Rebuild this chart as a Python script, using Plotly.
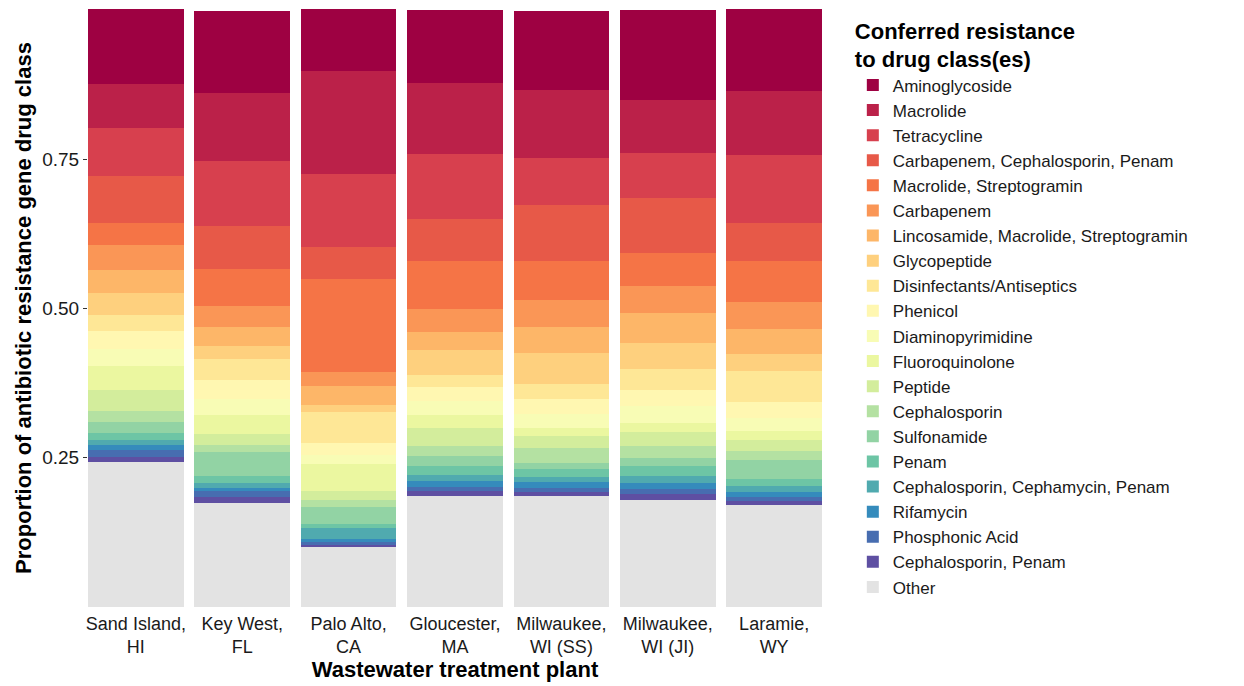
import plotly.graph_objects as go

# ---------------- data ----------------
plants = ["Sand Island,<br>HI", "Key West,<br>FL", "Palo Alto,<br>CA", "Gloucester,<br>MA",
          "Milwaukee,<br>WI (SS)", "Milwaukee,<br>WI (JI)", "Laramie,<br>WY"]

other            = [0.243, 0.175, 0.101, 0.186, 0.186, 0.180, 0.171]
ceph_penam       = [0.008, 0.010, 0.003, 0.008, 0.007, 0.010, 0.007]
phosphonic_acid  = [0.012, 0.010, 0.005, 0.007, 0.007, 0.007, 0.007]
rifamycin        = [0.008, 0.005, 0.005, 0.010, 0.010, 0.010, 0.007]
ceph_cephamycin_penam = [0.008, 0.008, 0.018, 0.010, 0.007, 0.013, 0.010]
penam            = [0.013, 0.012, 0.007, 0.015, 0.015, 0.017, 0.013]
sulfonamide      = [0.018, 0.040, 0.028, 0.017, 0.010, 0.012, 0.032]
cephalosporin    = [0.018, 0.012, 0.013, 0.017, 0.025, 0.020, 0.015]
peptide          = [0.035, 0.018, 0.015, 0.030, 0.020, 0.025, 0.018]
fluoroquinolone  = [0.041, 0.032, 0.044, 0.022, 0.013, 0.015, 0.015]
diaminopyrimidine = [0.028, 0.026, 0.015, 0.023, 0.023, 0.027, 0.021]
phenicol         = [0.031, 0.032, 0.020, 0.023, 0.025, 0.028, 0.028]
disinfectants    = [0.027, 0.035, 0.052, 0.020, 0.025, 0.034, 0.052]
glycopeptide     = [0.036, 0.023, 0.013, 0.042, 0.052, 0.045, 0.028]
lincosamide_mac_strep = [0.038, 0.032, 0.032, 0.030, 0.045, 0.050, 0.042]
carbapenem       = [0.042, 0.034, 0.022, 0.040, 0.045, 0.045, 0.045]
macrolide_strep  = [0.037, 0.062, 0.157, 0.080, 0.065, 0.055, 0.069]
carb_ceph_penam  = [0.080, 0.073, 0.054, 0.070, 0.094, 0.092, 0.064]
tetracycline     = [0.079, 0.109, 0.121, 0.109, 0.079, 0.075, 0.114]
macrolide        = [0.074, 0.114, 0.173, 0.119, 0.114, 0.090, 0.107]
aminoglycoside   = [0.126, 0.137, 0.104, 0.122, 0.131, 0.151, 0.137]

# legend order (top to bottom)
classes = [
    ("Aminoglycoside", aminoglycoside),
    ("Macrolide", macrolide),
    ("Tetracycline", tetracycline),
    ("Carbapenem, Cephalosporin, Penam", carb_ceph_penam),
    ("Macrolide, Streptogramin", macrolide_strep),
    ("Carbapenem", carbapenem),
    ("Lincosamide, Macrolide, Streptogramin", lincosamide_mac_strep),
    ("Glycopeptide", glycopeptide),
    ("Disinfectants/Antiseptics", disinfectants),
    ("Phenicol", phenicol),
    ("Diaminopyrimidine", diaminopyrimidine),
    ("Fluoroquinolone", fluoroquinolone),
    ("Peptide", peptide),
    ("Cephalosporin", cephalosporin),
    ("Sulfonamide", sulfonamide),
    ("Penam", penam),
    ("Cephalosporin, Cephamycin, Penam", ceph_cephamycin_penam),
    ("Rifamycin", rifamycin),
    ("Phosphonic Acid", phosphonic_acid),
    ("Cephalosporin, Penam", ceph_penam),
]

y_ticks = [0.25, 0.50, 0.75]
y_ticklabels = ["0.25", "0.50", "0.75"]

# ---------------- colours (Spectral ramp, 20 steps) ----------------
spectral = ["#9E0142", "#D53E4F", "#F46D43", "#FDAE61", "#FEE08B", "#FFFFBF",
            "#E6F598", "#ABDDA4", "#66C2A5", "#3288BD", "#5E4FA2"]


def ramp(cols, n):
    rgb = [tuple(int(c[i:i + 2], 16) for i in (1, 3, 5)) for c in cols]
    out = []
    for k in range(n):
        t = k / (n - 1) * (len(rgb) - 1)
        i = min(int(t), len(rgb) - 2)
        f = t - i
        c = [round(rgb[i][j] + (rgb[i + 1][j] - rgb[i][j]) * f) for j in range(3)]
        out.append("#%02X%02X%02X" % tuple(c))
    return out


palette = ramp(spectral, len(classes))

FONT = "Liberation Sans, Arial, Helvetica, sans-serif"

fig = go.Figure()
# bottom of stack first: Other, then the classes from the bottom up
fig.add_trace(go.Bar(x=list(range(len(plants))), y=other, name="Other",
                     marker=dict(color="#E3E3E3", line=dict(width=0)), width=0.9))
for (name, vals), col in reversed(list(zip(classes, palette))):
    fig.add_trace(go.Bar(x=list(range(len(plants))), y=vals, name=name,
                         marker=dict(color=col, line=dict(width=0)), width=0.9))

fig.update_layout(
    barmode="stack",
    width=1244, height=686,
    margin=dict(l=88, r=422, t=9, b=79),
    plot_bgcolor="white", paper_bgcolor="white",
    font=dict(family=FONT, color="#1a1a1a"),
    legend=dict(
        traceorder="reversed",
        x=1.042, xanchor="left", y=0.998, yanchor="top",
        font=dict(size=17, family=FONT, color="#1a1a1a"),
        title=dict(text="<b>Conferred resistance<br>to drug class(es)</b>",
                   font=dict(size=22, family=FONT, color="#000000")),
        bgcolor="rgba(0,0,0,0)",
    ),
    xaxis=dict(
        tickmode="array", tickvals=list(range(len(plants))), ticktext=plants,
        range=[-0.45, len(plants) - 0.55],
        showgrid=False, zeroline=False, showline=False,
        ticks="", automargin=False, ticklabelstandoff=4,
        tickfont=dict(size=18, family=FONT, color="#1a1a1a"),
        title=dict(text="<b>Wastewater treatment plant</b>",
                   font=dict(size=22, family=FONT, color="#000000"), standoff=2),
    ),
    yaxis=dict(
        range=[0, 1.002], automargin=False,
        tickmode="array", tickvals=y_ticks, ticktext=y_ticklabels,
        showgrid=False, zeroline=False, showline=False,
        ticks="outside", ticklen=4, tickcolor="#333333",
        tickfont=dict(size=19, family=FONT, color="#1a1a1a"),
        title=dict(text="<b>Proportion of antibiotic resistance gene drug class</b>",
                   font=dict(size=22, family=FONT, color="#000000"), standoff=4),
    ),
)

fig.write_html("out.html", config={"displayModeBar": False},
               post_script="document.body.style.margin='0';document.body.style.padding='0';")
